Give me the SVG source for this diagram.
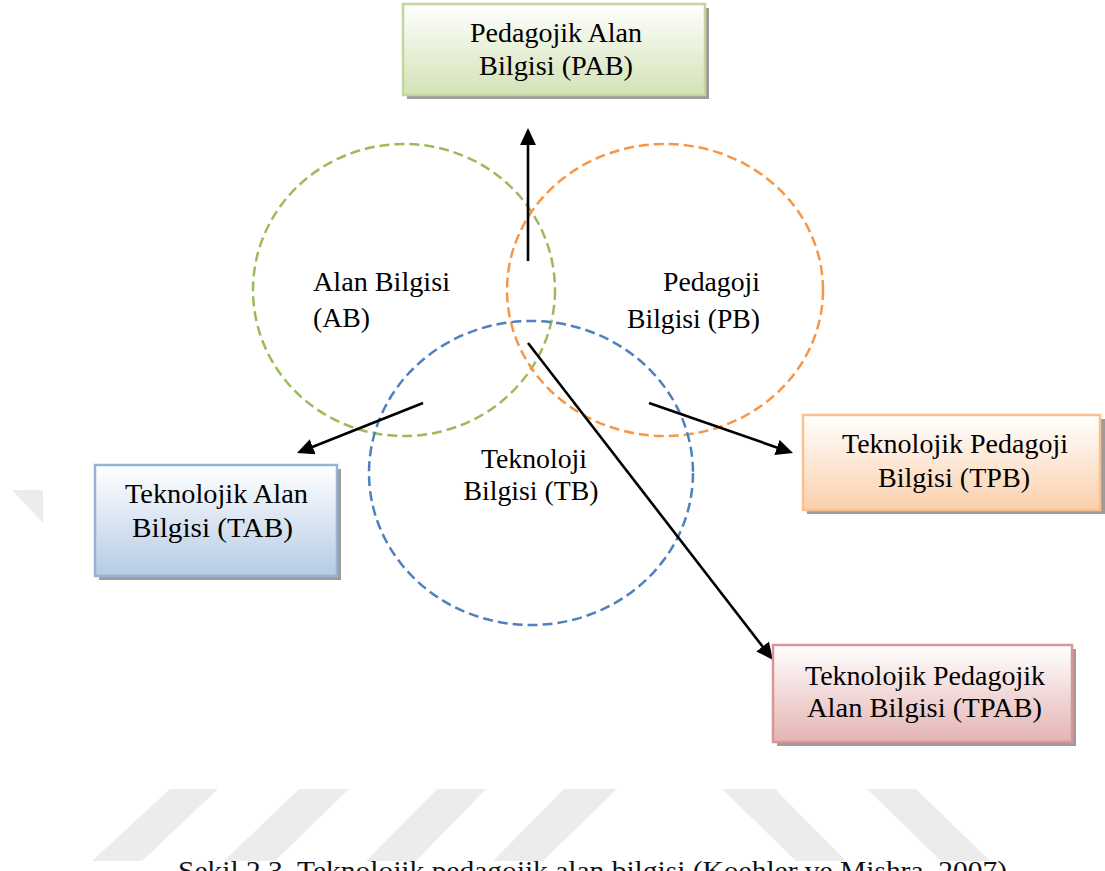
<svg xmlns="http://www.w3.org/2000/svg" width="1105" height="871" viewBox="0 0 1105 871">
  <style>
    .lbl { font-family: "Liberation Serif", "Times New Roman", serif; font-size: 27px; fill: #000; }
    .mid { text-anchor: middle; }
    .end { text-anchor: end; }
    .circ { fill: none; stroke-width: 2.5; stroke-dasharray: 10 5; }
    .shadow { fill: #9c9c9c; }
    .box { stroke-width: 2.5; }
    .conn { stroke: #000; stroke-width: 2.6; fill: none; marker-end: url(#arrow); }
    .wm { fill: #ececec; }
    .cap { font-family: "Liberation Serif", "Times New Roman", serif; font-size: 28px; fill: #111; }
  </style>
  <defs>
    <marker id="arrow" markerUnits="userSpaceOnUse" viewBox="0 0 17 16" markerWidth="17" markerHeight="16" refX="12" refY="8" orient="auto">
      <path d="M0,0 L17,8 L0,16 z" fill="#000"/>
    </marker>
    <linearGradient id="gGreen" x1="0" y1="0" x2="0" y2="1">
      <stop offset="0" stop-color="#ffffff"/>
      <stop offset="1" stop-color="#d3e2b6"/>
    </linearGradient>
    <linearGradient id="gBlue" x1="0" y1="0" x2="0" y2="1">
      <stop offset="0" stop-color="#ffffff"/>
      <stop offset="1" stop-color="#b6cbe4"/>
    </linearGradient>
    <linearGradient id="gOrange" x1="0" y1="0" x2="0" y2="1">
      <stop offset="0" stop-color="#ffffff"/>
      <stop offset="1" stop-color="#fbd0ac"/>
    </linearGradient>
    <linearGradient id="gRed" x1="0" y1="0" x2="0" y2="1">
      <stop offset="0" stop-color="#ffffff"/>
      <stop offset="1" stop-color="#e4b4b3"/>
    </linearGradient>
  </defs>

  <rect x="0" y="0" width="1105" height="871" fill="#ffffff"/>

  <g id="watermark">
    <polygon class="wm" points="12,490 43,490 43,523"/>
    <polygon class="wm" points="170,789 218,789 142,861 92,861"/>
    <polygon class="wm" points="299,789 349,789 275,861 224,861"/>
    <polygon class="wm" points="437,789 486,789 416,861 366,861"/>
    <polygon class="wm" points="564,789 617,789 543,861 493,861"/>
    <polygon class="wm" points="722,789 775,789 846,861 796,861"/>
    <polygon class="wm" points="867,789 916,789 990,861 941,861"/>
  </g>

  <g id="node-AB">
    <ellipse class="circ" cx="404" cy="290" rx="151" ry="146" stroke="#9bbb59"/>
    <text class="lbl" x="313" y="291" textLength="137" lengthAdjust="spacingAndGlyphs">Alan Bilgisi</text>
    <text class="lbl" x="313" y="327" textLength="57" lengthAdjust="spacingAndGlyphs">(AB)</text>
  </g>
  <g id="node-PB">
    <ellipse class="circ" cx="665" cy="290" rx="158" ry="146" stroke="#f79646"/>
    <text class="lbl end" x="760" y="291" textLength="97" lengthAdjust="spacingAndGlyphs">Pedagoji</text>
    <text class="lbl end" x="760" y="328" textLength="133" lengthAdjust="spacingAndGlyphs">Bilgisi (PB)</text>
  </g>
  <g id="node-TB">
    <ellipse class="circ" cx="531" cy="473" rx="162" ry="152" stroke="#4f81bd"/>
    <text class="lbl mid" x="534" y="468" textLength="106" lengthAdjust="spacingAndGlyphs">Teknoloji</text>
    <text class="lbl mid" x="531" y="500" textLength="135" lengthAdjust="spacingAndGlyphs">Bilgisi (TB)</text>
  </g>

  <g id="connectors">
    <line class="conn" x1="528" y1="261" x2="528" y2="133"/>
    <line class="conn" x1="423" y1="403" x2="301.6" y2="451.2"/>
    <line class="conn" x1="649" y1="403" x2="788.3" y2="451.4"/>
    <line class="conn" x1="528" y1="343" x2="769.9" y2="656"/>
  </g>

  <g id="node-PAB">
    <rect class="shadow" x="407" y="8" width="302" height="91"/>
    <rect class="box" x="403" y="4" width="302" height="91" fill="url(#gGreen)" stroke="#c3d69b"/>
    <text class="lbl mid" x="556" y="42" textLength="172" lengthAdjust="spacingAndGlyphs">Pedagojik Alan</text>
    <text class="lbl mid" x="556" y="75" textLength="154" lengthAdjust="spacingAndGlyphs">Bilgisi (PAB)</text>
  </g>

  <g id="node-TAB">
    <rect class="shadow" x="99" y="469" width="242" height="111"/>
    <rect class="box" x="95" y="465" width="242" height="111" fill="url(#gBlue)" stroke="#95b3d7"/>
    <text class="lbl mid" x="216.5" y="503" textLength="183" lengthAdjust="spacingAndGlyphs">Teknolojik Alan</text>
    <text class="lbl mid" x="212.5" y="537" textLength="161" lengthAdjust="spacingAndGlyphs">Bilgisi (TAB)</text>
  </g>

  <g id="node-TPB">
    <rect class="shadow" x="807" y="419" width="298" height="95"/>
    <rect class="box" x="803" y="415" width="297" height="95" fill="url(#gOrange)" stroke="#fac08f"/>
    <text class="lbl mid" x="955" y="453" textLength="226" lengthAdjust="spacingAndGlyphs">Teknolojik Pedagoji</text>
    <text class="lbl mid" x="954" y="487" textLength="152" lengthAdjust="spacingAndGlyphs">Bilgisi (TPB)</text>
  </g>

  <g id="node-TPAB">
    <rect class="shadow" x="777" y="649" width="299" height="97"/>
    <rect class="box" x="773" y="645" width="299" height="97" fill="url(#gRed)" stroke="#d99694"/>
    <text class="lbl mid" x="925" y="685" textLength="240" lengthAdjust="spacingAndGlyphs">Teknolojik Pedagojik</text>
    <text class="lbl mid" x="924.5" y="717" textLength="235" lengthAdjust="spacingAndGlyphs">Alan Bilgisi (TPAB)</text>
  </g>

  <text id="caption" class="cap" x="178" y="880" textLength="829" lengthAdjust="spacingAndGlyphs">Şekil 2.3. Teknolojik pedagojik alan bilgisi (Koehler ve Mishra, 2007)</text>
</svg>
